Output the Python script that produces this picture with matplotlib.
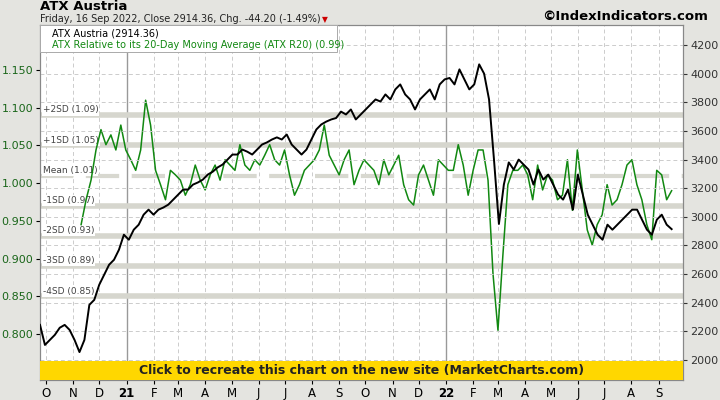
import matplotlib
matplotlib.use("Agg")
import matplotlib.pyplot as plt
from matplotlib.patches import Rectangle
import numpy as np
import pandas as pd

atx = [2245,2105,2140,2175,2225,2245,2210,2140,2055,2140,2385,2420,2525,2595,2665,2700,2770,2875,2840,2910,
       2945,3015,3050,3015,3050,3065,3085,3120,3155,3190,3190,3225,3240,3260,3295,3315,3345,3365,3400,3435,
       3435,3470,3455,3435,3470,3505,3520,3540,3555,3540,3575,3505,3470,3435,3470,3540,3610,3645,3665,3680,
       3690,3735,3715,3750,3680,3715,3750,3785,3820,3805,3855,3820,3890,3925,3855,3820,3750,3820,3855,3890,
       3820,3925,3960,3970,3925,4030,3960,3890,3925,4065,4000,3820,3400,2950,3225,3380,3330,3400,3365,3330,
       3225,3330,3260,3295,3225,3155,3120,3190,3050,3295,3155,3015,2945,2875,2840,2945,2910,2945,2980,3015,
       3050,3050,2980,2910,2875,2980,3015,2945,2914]
r20 = [0.945,0.978,1.004,1.044,1.071,1.051,1.064,1.044,1.077,1.044,1.031,1.017,1.044,1.110,1.077,1.017,0.998,0.978,
       1.017,1.011,1.004,0.984,0.998,1.024,1.004,0.991,1.011,1.024,1.004,1.031,1.024,1.017,1.051,1.024,1.017,1.031,
       1.024,1.037,1.051,1.031,1.024,1.044,1.011,0.984,0.998,1.017,1.024,1.031,1.044,1.077,1.037,1.024,1.011,1.031,
       1.044,0.998,1.017,1.031,1.024,1.017,0.998,1.031,1.011,1.024,1.037,0.998,0.978,0.971,1.011,1.024,1.004,0.984,
       1.031,1.024,1.017,1.017,1.051,1.024,0.984,1.017,1.044,1.044,1.004,0.880,0.805,0.905,0.998,1.017,1.017,1.024,
       1.011,0.978,1.024,0.991,1.011,1.004,0.978,0.984,1.031,0.964,1.044,0.991,0.938,0.918,0.945,0.958,0.998,0.971,
       0.978,0.998,1.024,1.031,0.998,0.978,0.945,0.925,1.017,1.011,0.978,0.990]
sd_labels = ["+2SD (1.09)","+1SD (1.05)","Mean (1.01)","-1SD (0.97)","-2SD (0.93)","-3SD (0.89)","-4SD (0.85)"]
sd_values = [1.09,1.05,1.01,0.97,0.93,0.89,0.85]
month_labels = ["O","N","D","21","F","M","A","M","J","J","A","S","O","N","D","22","F","M","A","M","J","J","A","S"]

d_atx = pd.date_range("2020-09-24","2022-09-16",periods=len(atx))
d_r20 = pd.date_range("2020-11-10","2022-09-16",periods=len(r20))

bg = "#e4e4e0"
green = "#118811"
fig = plt.figure(figsize=(7.2,4.0),dpi=100,facecolor=bg)
ax = fig.add_axes([40/720,20/400,643/720,355/400])   # left axis: R20
ax.set_facecolor("white")
ax.set_xlim(pd.Timestamp("2020-09-24"),pd.Timestamp("2022-09-29"))
ax.set_ylim(0.739,1.2097)
ticks = np.arange(0.80,1.151,0.05)
ax.set_yticks(ticks)
ax.set_yticklabels([f"{v:.3f}" for v in ticks],color="#1a661a")
ax.tick_params(axis="y",labelsize=8,length=3,pad=2)
months = pd.date_range("2020-10-01","2022-09-01",freq="MS")
ax.set_xticks(months)
ax.set_xticklabels(month_labels)
ax.tick_params(axis="x",labelsize=8.5,length=3,pad=2)
for lbl in ax.get_xticklabels():
    if lbl.get_text() in ("21","22"):
        lbl.set_fontweight("bold")
for m in months:
    if m.month == 1:
        ax.axvline(m,color="#999999",lw=1,zorder=0)
    else:
        ax.axvline(m,color="#cccccc",lw=0.7,ls=(0,(4,3)),zorder=0)
for v,l in zip(sd_values,sd_labels):
    if l.startswith("Mean"):
        ax.axhline(v,color="#d8d8d0",lw=3,ls=(0,(8,3)),zorder=1)
    else:
        ax.axhline(v,color="#d6d6ce",lw=4,zorder=1)
    ax.text(pd.Timestamp("2020-09-27"),v+0.007,l,fontsize=6.5,color="#444444",va="center",ha="left",
            bbox=dict(facecolor="white",edgecolor="none",pad=0.8),zorder=2)
ax.plot(d_r20,r20,color=green,lw=1.1,zorder=3)

ax2 = ax.twinx()   # right axis: price
ax2.set_ylim(1860,4340)
ax2.set_yticks(range(2000,4201,200))
ax2.tick_params(axis="y",labelsize=8,length=3,pad=2,colors="#333333")
for y in range(2000,4201,200):
    ax2.axhline(y,color="#cccccc",lw=0.7,ls=(0,(4,3)),zorder=0)
ax2.plot(d_atx,atx,color="black",lw=1.4,zorder=4)

ax2.add_patch(Rectangle((0,0),1,19/355,transform=ax2.transAxes,facecolor="#ffd700",edgecolor="none",zorder=10))
ax2.text(0.5,9.5/355,"Click to recreate this chart on the new site (MarketCharts.com)",transform=ax2.transAxes,
         ha="center",va="center",fontsize=9,fontweight="bold",color="#222222",zorder=11)
for a in (ax,ax2):
    for s in a.spines.values():
        s.set_color("#888888")

fig.patches.append(Rectangle((40/720,(400-52)/400),297/720,27/400,transform=fig.transFigure,facecolor="white",edgecolor="#aaaaaa",lw=0.7,zorder=20))
fig.text(52/720,(400-33)/400,"ATX Austria (2914.36)",fontsize=7,color="black",va="center",zorder=21)
fig.text(52/720,(400-45)/400,"ATX Relative to its 20-Day Moving Average (ATX R20) (0.99)",fontsize=7,color=green,va="center",zorder=21)
fig.lines.append(plt.Line2D([44/720,47/720],[(400-36)/400,(400-30)/400],transform=fig.transFigure,color="black",lw=1.5))
fig.lines.append(plt.Line2D([44/720,47/720],[(400-48)/400,(400-42)/400],transform=fig.transFigure,color=green,lw=1.5))

fig.text(40/720,(400-7)/400,"ATX Austria",fontsize=9.5,fontweight="bold",va="center")
fig.text(40/720,(400-19)/400,"Friday, 16 Sep 2022, Close 2914.36, Chg. -44.20 (-1.49%)",fontsize=7,va="center",color="#222222")
fig.text(322/720,(400-19.5)/400,"\u25BC",fontsize=5.5,color="#cc0000",va="center")
fig.text(708/720,(400-16)/400,"\u00A9IndexIndicators.com",fontsize=9.5,fontweight="bold",ha="right",va="center")
fig.savefig("out.png",dpi=100,facecolor=bg)
